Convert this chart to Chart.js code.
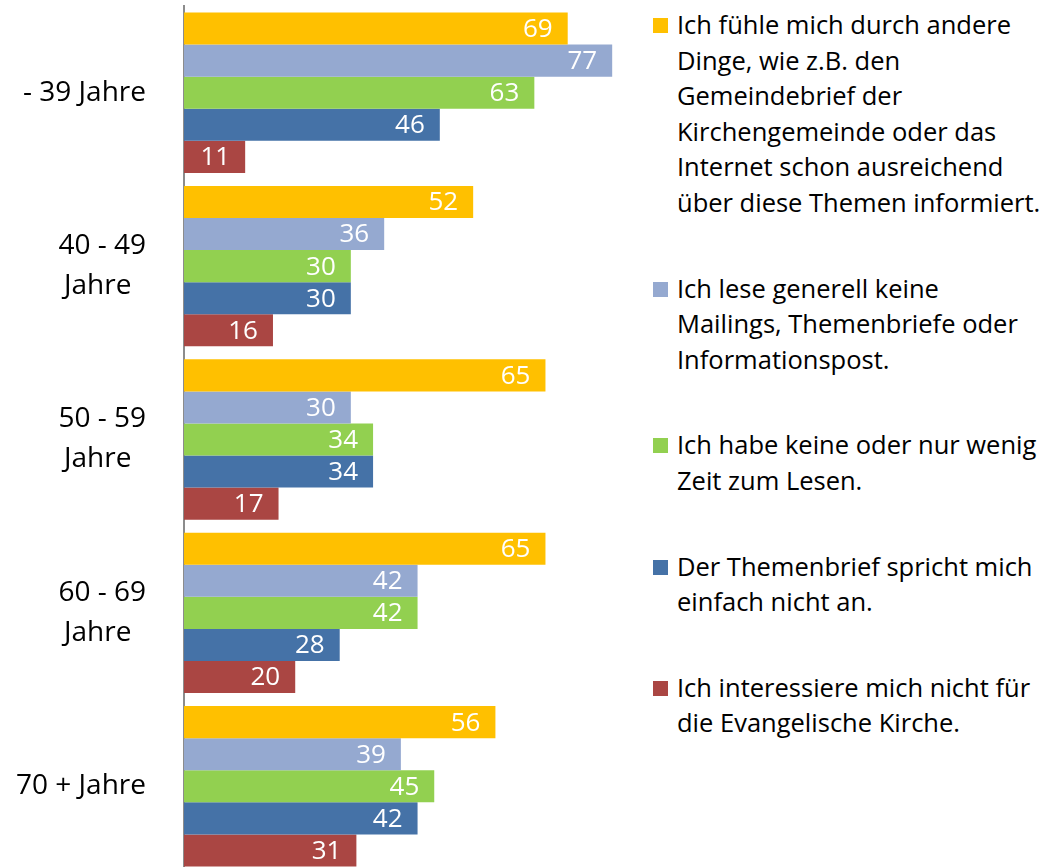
<!DOCTYPE html>
<html>
<head>
<meta charset="utf-8">
<script src="https://cdn.jsdelivr.net/npm/chart.js@4/dist/chart.umd.min.js"></script>
<style>
  html, body { margin: 0; padding: 0; background: #fff; overflow: hidden; }
  #wrap { position: relative; width: 1052px; height: 867px; }
  #chartBox { position: absolute; left: 0; top: 0; width: 640px; height: 873px; }
  #legend { position: absolute; left: 652px; top: 7px; width: 400px;
            font-family: 'Open Sans', sans-serif; font-size: 25.5px; line-height: 35.6px; color: #000; }
  .item { position: relative; padding-left: 25px; margin-bottom: 50px; white-space: nowrap; }
  .swatch { position: absolute; left: 1px; top: 11px; width: 15px; height: 15px; }
</style>
</head>
<body>
<div id="wrap">
  <div id="chartBox"><canvas id="chart"></canvas></div>
  <div id="legend"></div>
</div>
<script>
// Altersgruppen (y-Achse), mehrzeilig wie im Original
const categories = [
    ['- 39 Jahre'],
    ['40 - 49', 'Jahre  '],
    ['50 - 59', 'Jahre  '],
    ['60 - 69', 'Jahre  '],
    ['70 + Jahre']
];

// Legendentexte mit den Zeilenumbrüchen aus der Vorlage
const seriesLabels = [
    ['Ich fühle mich durch andere', 'Dinge, wie z.B. den', 'Gemeindebrief der', 'Kirchengemeinde oder das', 'Internet schon ausreichend', 'über diese Themen informiert.'],
    ['Ich lese generell keine', 'Mailings, Themenbriefe oder', 'Informationspost.'],
    ['Ich habe keine oder nur wenig', 'Zeit zum Lesen.'],
    ['Der Themenbrief spricht mich', 'einfach nicht an.'],
    ['Ich interessiere mich nicht für', 'die Evangelische Kirche.']
];

const seriesColors = ['#FFC000', '#95A9D0', '#92D050', '#4572A7', '#AA4643'];

// Werte je Antwort, Reihenfolge wie categories
const informiert    = [69, 52, 65, 65, 56];
const keinePost     = [77, 36, 30, 42, 39];
const keineZeit     = [63, 30, 34, 42, 45];
const sprichtNicht  = [46, 30, 34, 28, 42];
const keinInteresse = [11, 16, 17, 20, 31];

const seriesValues = [informiert, keinePost, keineZeit, sprichtNicht, keinInteresse];

const FONT = "'Open Sans', sans-serif";

// Werte weiß am Balkenende schreiben
const valueLabels = {
    id: 'valueLabels',
    afterDatasetsDraw(chart) {
        const ctx = chart.ctx;
        ctx.save();
        ctx.font = '26px ' + FONT;
        ctx.fillStyle = '#ffffff';
        ctx.textAlign = 'right';
        ctx.textBaseline = 'middle';
        chart.data.datasets.forEach((ds, i) => {
            chart.getDatasetMeta(i).data.forEach((bar, j) => {
                ctx.fillText(String(ds.data[j]), bar.x - 15, bar.y + 1);
            });
        });
        ctx.restore();
    }
};

const datasets = seriesValues.map((vals, i) => ({
    label: seriesLabels[i].join(' '),
    data: vals,
    backgroundColor: seriesColors[i],
    borderWidth: 0,
    barPercentage: 1.0,
    categoryPercentage: 0.925
}));

new Chart(document.getElementById('chart'), {
    type: 'bar',
    data: { labels: categories, datasets },
    plugins: [valueLabels],
    options: {
        indexAxis: 'y',
        responsive: true,
        maintainAspectRatio: false,
        animation: false,
        layout: { padding: { top: 6, right: 0, bottom: 0, left: 0 } },
        plugins: {
            legend: { display: false },
            tooltip: { enabled: false }
        },
        scales: {
            x: {
                display: false,
                min: 0,
                max: 82
            },
            y: {
                // feste Achsenbreite, keine Zusatzränder oben/unten
                afterFit: (scale) => {
                    scale.width = 184;
                    scale.paddingTop = 0;
                    scale.paddingBottom = 0;
                },
                border: { display: true, color: '#8c8c8c', width: 2 },
                grid: { display: false, drawTicks: false },
                ticks: {
                    color: '#000',
                    padding: 38,
                    font: { family: FONT, size: 28, lineHeight: 1.43 }
                }
            }
        }
    }
});

// HTML-Legende rechts
const legendEl = document.getElementById('legend');
seriesLabels.forEach((lines, i) => {
    const item = document.createElement('div');
    item.className = 'item';
    const sw = document.createElement('span');
    sw.className = 'swatch';
    sw.style.background = seriesColors[i];
    item.appendChild(sw);
    lines.forEach(line => {
        const d = document.createElement('div');
        d.textContent = line;
        item.appendChild(d);
    });
    legendEl.appendChild(item);
});
</script>
</body>
</html>
